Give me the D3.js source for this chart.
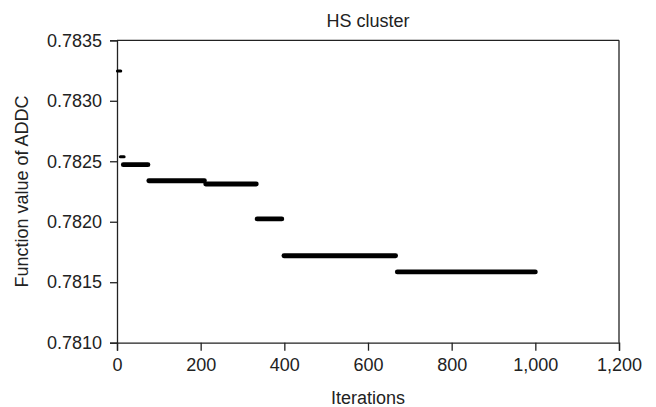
<!DOCTYPE html>
<html>
<head>
<meta charset="utf-8">
<script src="https://cdn.jsdelivr.net/npm/d3@7"></script>
<style>
  html, body { margin: 0; padding: 0; background: #fff; }
  svg { display: block; }
  text { font-family: "Liberation Sans", Arial, sans-serif; fill: #222; }
</style>
</head>
<body>
<script>
// Step segments of the best ADDC value found by HS clustering
const segStart = [1, 8, 15, 76, 212, 335, 399, 670];
const segEnd   = [9, 17, 74, 209, 333, 394, 666, 1000];
const segValue = [0.783246, 0.782538, 0.782472, 0.782339, 0.782312, 0.782023, 0.781719, 0.781585];
const segWeight = [3, 3, 4.8, 4.8, 4.8, 4.8, 4.8, 4.8];

const xTicks = [0, 200, 400, 600, 800, 1000, 1200];
const yTicks = [0.7810, 0.7815, 0.7820, 0.7825, 0.7830, 0.7835];

const W = 656, H = 407;
const margin = { left: 117, right: 37, top: 40.3, bottom: 64.3 };
const fontSize = "18px";

const svg = d3.select("body").append("svg").attr("width", W).attr("height", H);

const x = d3.scaleLinear().domain([0, 1200]).range([margin.left, W - margin.right]);
const y = d3.scaleLinear().domain([0.7810, 0.7835]).range([H - margin.bottom, margin.top]);

const axisColor = "#222";

// frame: top and right borders
svg.append("line")
  .attr("x1", x(0)).attr("x2", x(1200)).attr("y1", y(0.7835)).attr("y2", y(0.7835))
  .attr("stroke", axisColor).attr("stroke-width", 1.3);
svg.append("line")
  .attr("x1", x(1200)).attr("x2", x(1200)).attr("y1", y(0.7835)).attr("y2", y(0.7810))
  .attr("stroke", axisColor).attr("stroke-width", 1.3);

const fmtX = d3.format(",");
const xAxis = svg.append("g")
  .attr("transform", `translate(0,${y(0.7810)})`)
  .call(d3.axisBottom(x).tickValues(xTicks).tickFormat(fmtX).tickSizeOuter(0).tickSize(8).tickPadding(8));

const yAxis = svg.append("g")
  .attr("transform", `translate(${x(0)},0)`)
  .call(d3.axisLeft(y).tickValues(yTicks).tickFormat(d3.format(".4f")).tickSizeOuter(0).tickSize(7).tickPadding(8));

[xAxis, yAxis].forEach(g => {
  g.select(".domain").attr("stroke", axisColor).attr("stroke-width", 1.3);
  g.selectAll(".tick line").attr("stroke", axisColor).attr("stroke-width", 1.3);
  g.selectAll(".tick text")
    .attr("fill", "#222")
    .style("font-family", "'Liberation Sans', Arial, sans-serif")
    .style("font-size", fontSize);
});

// step segments
svg.append("g").selectAll("line")
  .data(segValue)
  .join("line")
  .attr("x1", (d, i) => x(segStart[i]))
  .attr("x2", (d, i) => x(segEnd[i]))
  .attr("y1", d => y(d))
  .attr("y2", d => y(d))
  .attr("stroke", "#000")
  .attr("stroke-width", (d, i) => segWeight[i])
  .attr("stroke-linecap", "round");

// title and axis labels
svg.append("text")
  .attr("x", (x(0) + x(1200)) / 2).attr("y", 27)
  .attr("text-anchor", "middle")
  .style("font-size", fontSize)
  .text("HS cluster");

svg.append("text")
  .attr("x", (x(0) + x(1200)) / 2).attr("y", 404)
  .attr("text-anchor", "middle")
  .style("font-size", fontSize)
  .text("Iterations");

svg.append("text")
  .attr("transform", `translate(28,${(y(0.7810) + y(0.7835)) / 2}) rotate(-90)`)
  .attr("text-anchor", "middle")
  .style("font-size", fontSize)
  .text("Function value of ADDC");
</script>
</body>
</html>
